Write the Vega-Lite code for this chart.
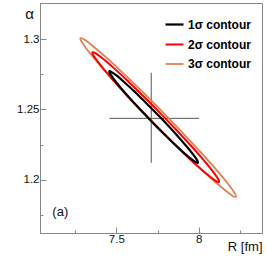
{
"$schema": "https://vega.github.io/schema/vega-lite/v6.json",
"width": 222, "height": 230,
"autosize": {"type": "none"},
"padding": {"left": 40, "top": 3, "right": 4, "bottom": 24},
"background": "white",
"config": {
  "view": {"stroke": "#888", "strokeWidth": 1},
  "font": "Liberation Sans",
  "axis": {"domainColor": "#888", "tickColor": "#888", "labelColor": "#111", "labelFont": "Liberation Sans", "labelFontSize": 11.5, "grid": false, "titleFont": "Liberation Sans", "titleFontWeight": "normal", "titleColor": "#111"}
},
"datasets": {
  "ell": [
    {"c":"3σ contour","i":0,"x":8.2255,"y":1.1878},{"c":"3σ contour","i":1,"x":8.2016,"y":1.1888},{"c":"3σ contour","i":2,"x":8.1472,"y":1.1937},{"c":"3σ contour","i":3,"x":8.0661,"y":1.2019},{"c":"3σ contour","i":4,"x":7.9635,"y":1.2130},{"c":"3σ contour","i":5,"x":7.8468,"y":1.2262},{"c":"3σ contour","i":6,"x":7.7237,"y":1.2407},{"c":"3σ contour","i":7,"x":7.6026,"y":1.2554},{"c":"3σ contour","i":8,"x":7.4919,"y":1.2694},{"c":"3σ contour","i":9,"x":7.3991,"y":1.2816},{"c":"3σ contour","i":10,"x":7.3304,"y":1.2913},{"c":"3σ contour","i":11,"x":7.2906,"y":1.2978},{"c":"3σ contour","i":12,"x":7.2823,"y":1.3006},{"c":"3σ contour","i":13,"x":7.3062,"y":1.2996},{"c":"3σ contour","i":14,"x":7.3607,"y":1.2947},{"c":"3σ contour","i":15,"x":7.4418,"y":1.2866},{"c":"3σ contour","i":16,"x":7.5444,"y":1.2754},{"c":"3σ contour","i":17,"x":7.6611,"y":1.2622},{"c":"3σ contour","i":18,"x":7.7841,"y":1.2477},{"c":"3σ contour","i":19,"x":7.9053,"y":1.2330},{"c":"3σ contour","i":20,"x":8.0159,"y":1.2190},{"c":"3σ contour","i":21,"x":8.1088,"y":1.2068},{"c":"3σ contour","i":22,"x":8.1775,"y":1.1971},{"c":"3σ contour","i":23,"x":8.2172,"y":1.1906},
    {"c":"2σ contour","i":0,"x":8.1227,"y":1.1984},{"c":"2σ contour","i":1,"x":8.1029,"y":1.1992},{"c":"2σ contour","i":2,"x":8.0584,"y":1.2031},{"c":"2σ contour","i":3,"x":7.9921,"y":1.2098},{"c":"2σ contour","i":4,"x":7.9084,"y":1.2188},{"c":"2σ contour","i":5,"x":7.8132,"y":1.2297},{"c":"2σ contour","i":6,"x":7.7129,"y":1.2415},{"c":"2σ contour","i":7,"x":7.6144,"y":1.2535},{"c":"2σ contour","i":8,"x":7.5244,"y":1.2649},{"c":"2σ contour","i":9,"x":7.4491,"y":1.2750},{"c":"2σ contour","i":10,"x":7.3934,"y":1.2830},{"c":"2σ contour","i":11,"x":7.3613,"y":1.2882},{"c":"2σ contour","i":12,"x":7.3549,"y":1.2906},{"c":"2σ contour","i":13,"x":7.3747,"y":1.2898},{"c":"2σ contour","i":14,"x":7.4192,"y":1.2860},{"c":"2σ contour","i":15,"x":7.4857,"y":1.2793},{"c":"2σ contour","i":16,"x":7.5693,"y":1.2702},{"c":"2σ contour","i":17,"x":7.6644,"y":1.2593},{"c":"2σ contour","i":18,"x":7.7647,"y":1.2475},{"c":"2σ contour","i":19,"x":7.8632,"y":1.2355},{"c":"2σ contour","i":20,"x":7.9533,"y":1.2241},{"c":"2σ contour","i":21,"x":8.0287,"y":1.2141},{"c":"2σ contour","i":22,"x":8.0842,"y":1.2061},{"c":"2σ contour","i":23,"x":8.1163,"y":1.2008},
    {"c":"1σ contour","i":0,"x":7.9957,"y":1.2119},{"c":"1σ contour","i":1,"x":7.9815,"y":1.2125},{"c":"1σ contour","i":2,"x":7.9499,"y":1.2151},{"c":"1σ contour","i":3,"x":7.9030,"y":1.2199},{"c":"1σ contour","i":4,"x":7.8442,"y":1.2263},{"c":"1σ contour","i":5,"x":7.7773,"y":1.2339},{"c":"1σ contour","i":6,"x":7.7071,"y":1.2423},{"c":"1σ contour","i":7,"x":7.6382,"y":1.2507},{"c":"1σ contour","i":8,"x":7.5752,"y":1.2588},{"c":"1σ contour","i":9,"x":7.5226,"y":1.2660},{"c":"1σ contour","i":10,"x":7.4839,"y":1.2716},{"c":"1σ contour","i":11,"x":7.4619,"y":1.2754},{"c":"1σ contour","i":12,"x":7.4577,"y":1.2771},{"c":"1σ contour","i":13,"x":7.4719,"y":1.2765},{"c":"1σ contour","i":14,"x":7.5035,"y":1.2739},{"c":"1σ contour","i":15,"x":7.5504,"y":1.2691},{"c":"1σ contour","i":16,"x":7.6092,"y":1.2628},{"c":"1σ contour","i":17,"x":7.6761,"y":1.2551},{"c":"1σ contour","i":18,"x":7.7463,"y":1.2468},{"c":"1σ contour","i":19,"x":7.8153,"y":1.2383},{"c":"1σ contour","i":20,"x":7.8782,"y":1.2302},{"c":"1σ contour","i":21,"x":7.9308,"y":1.2230},{"c":"1σ contour","i":22,"x":7.9695,"y":1.2174},{"c":"1σ contour","i":23,"x":7.9915,"y":1.2136}
  ],
  "cross": [
    {"x":7.458,"x2":8.002,"y":1.2436,"y2":1.2436},
    {"x":7.712,"x2":7.712,"y":1.212,"y2":1.276}
  ],
  "lab": [{"x":7.16,"y":1.177,"t":"(a)"}]
},
"layer": [
  {
    "data": {"name": "cross"},
    "mark": {"type": "rule", "color": "#555", "strokeWidth": 1},
    "encoding": {
      "x": {"field": "x", "type": "quantitative",
        "scale": {"domain": [7.037, 8.384], "nice": false, "zero": false},
        "axis": {"values": [7.25, 7.5, 7.75, 8, 8.25], "format": "~g",
          "labelExpr": "(datum.value == 7.5 || datum.value == 8) ? datum.label : ''",
          "tickSize": {"condition": {"test": "datum.value == 7.5 || datum.value == 8", "value": -6}, "value": -3},
          "labelPadding": 6.5,
          "title": "R [fm]", "titleFontSize": 13, "titleAlign": "right", "titleAnchor": "end", "titleX": 222, "titleY": 17.5, "titleBaseline": "alphabetic"}},
      "x2": {"field": "x2"},
      "y": {"field": "y", "type": "quantitative",
        "scale": {"domain": [1.1621, 1.3256], "nice": false, "zero": false},
        "axis": {"values": [1.175, 1.2, 1.225, 1.25, 1.275, 1.3], "format": "~g",
          "labelExpr": "(datum.value == 1.2 || datum.value == 1.25 || datum.value == 1.3) ? datum.label : ''",
          "tickSize": {"condition": {"test": "datum.value == 1.2 || datum.value == 1.25 || datum.value == 1.3", "value": -6}, "value": -3},
          "labelPadding": 7,
          "title": "α", "titleFontSize": 15, "titleAngle": 0, "titleAlign": "center", "titleBaseline": "middle", "titleX": -11, "titleY": 10}},
      "y2": {"field": "y2"}
    }
  },
  {
    "data": {"name": "ell"},
    "mark": {"type": "line", "interpolate": "cardinal-closed", "clip": true},
    "encoding": {
      "x": {"field": "x", "type": "quantitative"},
      "y": {"field": "y", "type": "quantitative"},
      "order": {"field": "i", "type": "quantitative"},
      "color": {"field": "c", "type": "nominal",
        "scale": {"domain": ["1σ contour", "2σ contour", "3σ contour"], "range": ["#000000", "#ff0000", "#e0804f"]},
        "legend": {"orient": "none", "legendX": 124, "legendY": 11, "title": null, "symbolType": "stroke", "symbolSize": 324, "labelFont": "Liberation Sans", "labelFontWeight": "bold", "labelFontSize": 12, "labelColor": "#000", "labelOffset": 3, "rowPadding": 3.5}},
      "strokeWidth": {"field": "c", "type": "nominal",
        "scale": {"domain": ["1σ contour", "2σ contour", "3σ contour"], "range": [2.2, 1.8, 1.1]},
        "legend": {"orient": "none", "legendX": 124, "legendY": 11, "title": null, "symbolType": "stroke", "symbolSize": 324, "labelFont": "Liberation Sans", "labelFontWeight": "bold", "labelFontSize": 12, "labelColor": "#000", "labelOffset": 3, "rowPadding": 3.5}}
    }
  },
  {
    "data": {"name": "lab"},
    "mark": {"type": "text", "font": "Liberation Sans", "fontSize": 13, "align": "center", "baseline": "middle", "color": "#111"},
    "encoding": {
      "x": {"field": "x", "type": "quantitative"},
      "y": {"field": "y", "type": "quantitative"},
      "text": {"field": "t"}
    }
  }
]
}
